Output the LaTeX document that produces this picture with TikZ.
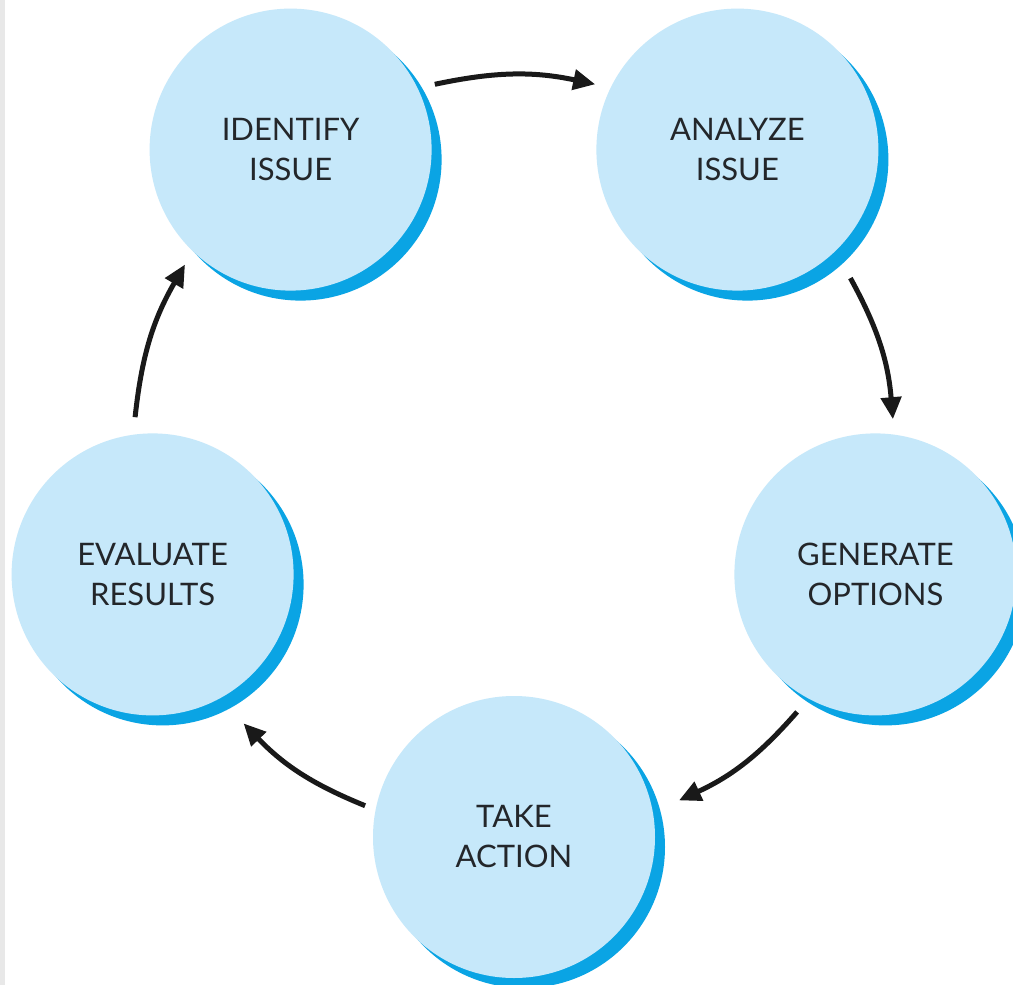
\documentclass[tikz,border=0pt]{standalone}
\usepackage{fontspec}
\setmainfont{Lato}
\usetikzlibrary{arrows.meta}
\definecolor{lightblue}{RGB}{198,232,250}
\definecolor{darkblue}{RGB}{10,164,228}
\definecolor{txt}{RGB}{35,38,42}
\definecolor{strip}{RGB}{232,232,232}
\tikzset{
  lightc/.style={circle, fill=lightblue, minimum size=282pt, inner sep=0pt, align=center,
    text=txt, font=\fontsize{31}{40}\selectfont},
  darkc/.style={circle, fill=darkblue, minimum size=282pt, inner sep=0pt},
  flow/.style={line width=5pt, draw=black!90, -{Triangle[length=22pt,width=20pt]}}
}
\begin{document}
\begin{tikzpicture}[x=1pt,y=-1pt]
\useasboundingbox (0,0) rectangle (1013,985);
\fill[white] (0,0) rectangle (1013,985);
\fill[strip] (0,0) rectangle (5,985);
\begin{scope}
\clip (0,0) rectangle (1013,985);
% shadows
\node[darkc] (Is) at (300.6,159.6) {};
\node[darkc] (As) at (747.4,159.6) {};
\node[darkc] (Gs) at (885.4,584.4) {};
\node[darkc] (Ts) at (524,847) {};
\node[darkc] (Es) at (162.6,584.4) {};
% circles
\node[lightc] (I) at (290.6,149.6) {IDENTIFY\\ISSUE};
\node[lightc] (A) at (737.4,149.6) {ANALYZE\\ISSUE};
\node[lightc] (G) at (875.4,574.4) {GENERATE\\OPTIONS};
\node[lightc] (T) at (514,837) {TAKE\\ACTION};
\node[lightc] (E) at (152.6,574.4) {EVALUATE\\RESULTS};
\end{scope}
% arrow ends
\coordinate (a1s) at (434.8,84.3);
\coordinate (a1e) at (595.2,84.3);
\coordinate (a2s) at (850.4,278.1);
\coordinate (a2e) at (892.9,419.2);
\coordinate (a3s) at (797.1,711.9);
\coordinate (a3e) at (679,800.4);
\coordinate (a4s) at (365.1,805.7);
\coordinate (a4e) at (243.6,723.4);
\coordinate (a5s) at (135.1,417.2);
\coordinate (a5e) at (185,264.5);
\draw[flow] (a1s) to[bend left=12] (a1e);
\draw[flow] (a2s) to[bend left=12] (a2e);
\draw[flow] (a3s) to[bend left=12] (a3e);
\draw[flow] (a4s) to[bend left=12] (a4e);
\draw[flow] (a5s) to[bend left=12] (a5e);
\end{tikzpicture}
\end{document}
